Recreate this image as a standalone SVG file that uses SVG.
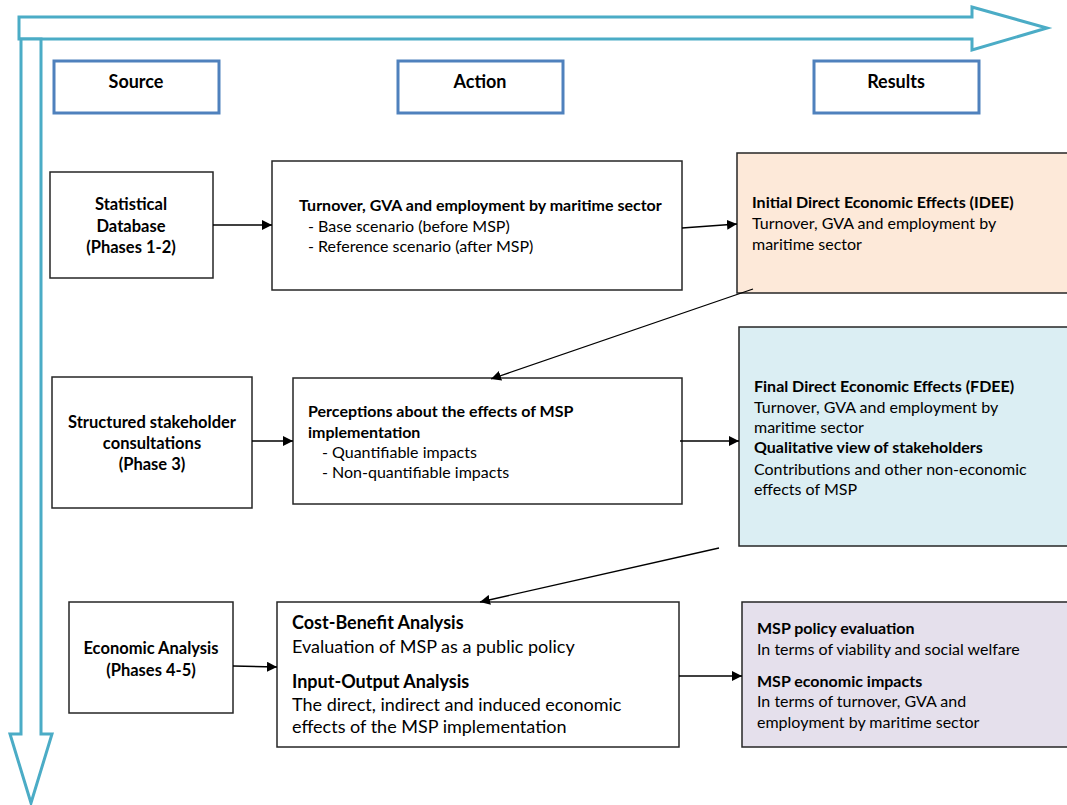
<svg xmlns="http://www.w3.org/2000/svg" width="1067" height="805" viewBox="0 0 1067 805">
  <style>
    .flow { fill: #ffffff; stroke: #4bacc6; stroke-width: 3; stroke-linejoin: miter; }
    .head { fill: #ffffff; stroke: #4f81bd; stroke-width: 3; }
    .box { stroke: #262626; stroke-width: 1.5; }
    .plain { fill: #ffffff; }
    .idee { fill: #fde9d9; }
    .fdee { fill: #dbeef3; }
    .msp { fill: #e5e0ec; }
    text { font-family: Lato, "Liberation Sans", sans-serif; font-size: 16px; fill: #000000; }
    .b { font-weight: bold; }
    .c { text-anchor: middle; }
    .hd { font-size: 18px; }
    .src { font-size: 16.5px; }
    .lg { font-size: 18px; }
    .conn { stroke: #000000; stroke-width: 1.3; fill: none; }
  </style>
  <defs>
    <marker id="arr" viewBox="0 0 10 10" refX="10" refY="5" markerWidth="10" markerHeight="10" markerUnits="userSpaceOnUse" orient="auto">
      <path d="M0,0 L10,5 L0,10 z" fill="#000000"/>
    </marker>
  </defs>

  <!-- flow direction arrows -->
  <g id="flow-arrows">
    <polygon class="flow" points="19,17 972,17 972,7 1047,28 972,50 972,39 19,39"/>
    <polygon class="flow" points="21,39 41,39 41,734 52,734 31,803 10,734 21,734"/>
  </g>

  <!-- column headers -->
  <g id="hdr-source">
    <rect class="head" x="54" y="61" width="165" height="52"/>
    <text class="b c hd" x="136" y="88">Source</text>
  </g>
  <g id="hdr-action">
    <rect class="head" x="398" y="61" width="165" height="52"/>
    <text class="b c hd" x="480" y="88">Action</text>
  </g>
  <g id="hdr-results">
    <rect class="head" x="814" y="61" width="165" height="52"/>
    <text class="b c hd" x="896" y="88">Results</text>
  </g>

  <!-- row 1 -->
  <g id="src-statistical">
    <rect class="box plain" x="50" y="172" width="163" height="106"/>
    <text class="b c src" x="131" y="210">Statistical</text>
    <text class="b c src" x="131" y="232">Database</text>
    <text class="b c src" x="131" y="253">(Phases 1-2)</text>
  </g>
  <g id="act-turnover">
    <rect class="box plain" x="272" y="161" width="410" height="129"/>
    <text class="b" x="299" y="211">Turnover, GVA and employment by maritime sector</text>
    <text x="308" y="232">- Base scenario (before MSP)</text>
    <text x="308" y="252">- Reference scenario (after MSP)</text>
  </g>
  <g id="res-idee">
    <rect class="box idee" x="737" y="153" width="340" height="140"/>
    <text class="b" x="752" y="208">Initial Direct Economic Effects (IDEE)</text>
    <text x="752" y="229">Turnover, GVA and employment by</text>
    <text x="752" y="250">maritime sector</text>
  </g>

  <!-- row 2 -->
  <g id="src-stakeholders">
    <rect class="box plain" x="52" y="377" width="200" height="131"/>
    <text class="b c src" x="152" y="428">Structured stakeholder</text>
    <text class="b c src" x="152" y="449">consultations</text>
    <text class="b c src" x="152" y="470">(Phase 3)</text>
  </g>
  <g id="act-perceptions">
    <rect class="box plain" x="293" y="378" width="389" height="126"/>
    <text class="b" x="308" y="417">Perceptions about the effects of MSP</text>
    <text class="b" x="308" y="438">implementation</text>
    <text x="322" y="458">- Quantifiable impacts</text>
    <text x="322" y="478">- Non-quantifiable impacts</text>
  </g>
  <g id="res-fdee">
    <rect class="box fdee" x="739" y="327" width="340" height="219"/>
    <text class="b" x="754" y="392">Final Direct Economic Effects (FDEE)</text>
    <text x="754" y="413">Turnover, GVA and employment by</text>
    <text x="754" y="433">maritime sector</text>
    <text class="b" x="754" y="453">Qualitative view of stakeholders</text>
    <text x="754" y="475">Contributions and other non-economic</text>
    <text x="754" y="495">effects of MSP</text>
  </g>

  <!-- row 3 -->
  <g id="src-economic">
    <rect class="box plain" x="69" y="602" width="164" height="111"/>
    <text class="b c src" x="151" y="654">Economic Analysis</text>
    <text class="b c src" x="151" y="676">(Phases 4-5)</text>
  </g>
  <g id="act-analysis">
    <rect class="box plain" x="277" y="602" width="402" height="145"/>
    <text class="b lg" x="292" y="629">Cost-Benefit Analysis</text>
    <text class="lg" x="292" y="653">Evaluation of MSP as a public policy</text>
    <text class="b lg" x="292" y="688">Input-Output  Analysis</text>
    <text class="lg" x="292" y="711">The direct, indirect and induced economic</text>
    <text class="lg" x="292" y="733">effects of the MSP implementation</text>
  </g>
  <g id="res-msp">
    <rect class="box msp" x="742" y="602" width="340" height="145"/>
    <text class="b" x="757" y="634">MSP policy evaluation</text>
    <text x="757" y="655">In terms of viability and social welfare</text>
    <text class="b" x="757" y="687">MSP economic impacts</text>
    <text x="757" y="707">In terms of turnover, GVA and</text>
    <text x="757" y="728">employment by maritime sector</text>
  </g>

  <!-- connectors -->
  <g id="connectors">
    <line class="conn" x1="213" y1="225" x2="272" y2="225" marker-end="url(#arr)"/>
    <line class="conn" x1="682" y1="228" x2="737" y2="224" marker-end="url(#arr)"/>
    <line class="conn" x1="753" y1="289" x2="491" y2="379" marker-end="url(#arr)"/>
    <line class="conn" x1="252" y1="441" x2="293" y2="441" marker-end="url(#arr)"/>
    <line class="conn" x1="680" y1="441" x2="739" y2="441" marker-end="url(#arr)"/>
    <line class="conn" x1="719" y1="548" x2="480" y2="602" marker-end="url(#arr)"/>
    <line class="conn" x1="233" y1="666" x2="277" y2="667" marker-end="url(#arr)"/>
    <line class="conn" x1="679" y1="676" x2="742" y2="676" marker-end="url(#arr)"/>
  </g>
</svg>
